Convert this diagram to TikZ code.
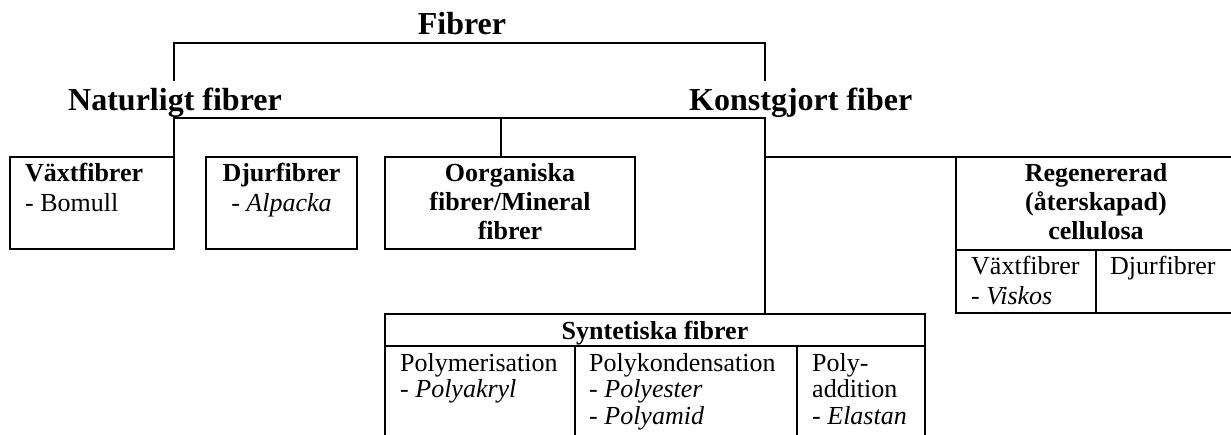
\documentclass[tikz,border=0pt]{standalone}
\usepackage{fontspec}
\setmainfont{Liberation Serif}
\usetikzlibrary{positioning}
\newcommand{\txtrows}[2]{\begin{tabular}[t]{@{}#1@{}}#2\end{tabular}}

\begin{document}
\begin{tikzpicture}[
      x=1pt, y=-1pt,
      title/.style={font=\fontsize{32}{36}\selectfont\bfseries, inner sep=0pt},
      txt/.style={font=\fontsize{26}{#1}\selectfont, inner sep=0pt},
      txt/.default=30,
      box/.style={draw, line width=1.8pt, inner sep=0pt, outer sep=0pt, anchor=north west},
      link/.style={line width=1.8pt}
    ]
      \useasboundingbox (0,0) rectangle (1231,435);
      \node[title, anchor=base] (fib) at (462,35) {Fibrer};
      \node[title, anchor=base west] (nat) at (68,111) {Naturligt fibrer};
      \node[title, anchor=base west] (kon) at (689,111) {Konstgjort fiber};
      \coordinate (fibj) at (469,43);
      \coordinate (natj) at (174,81);
      \coordinate (konj) at (765,81);
      \coordinate (hub) at (765,118);
      \coordinate (mid) at (501,118);

      \node[box, minimum width=164, minimum height=92] (vax) at (10,157) {};
      \node[box, minimum width=151, minimum height=92] (dju) at (206,157) {};
      \node[box, minimum width=250, minimum height=92] (oor) at (385,157) {};
      \node[box, minimum width=280, minimum height=93] (reg) at (956,157) {};
      \node[box, minimum width=140, minimum height=63] (regv) at (956,250) {};
      \node[box, minimum width=140, minimum height=63] (regd) at (1096,250) {};
      \node[box, minimum width=540, minimum height=32] (syn) at (385,314) {};
      \node[box, minimum width=190, minimum height=95] (polm) at (385,346) {};
      \node[box, minimum width=222, minimum height=95] (polk) at (575,346) {};
      \node[box, minimum width=128, minimum height=95] (pola) at (797,346) {};

      \node[txt, below right=25pt and 15pt of vax.north west, anchor=base west] (vaxt)
        {\txtrows{l}{\textbf{Växtfibrer}\\- Bomull}};
      \node[txt, below=25pt of dju.north, anchor=base] (djut)
        {\txtrows{c}{\textbf{Djurfibrer}\\- \textit{Alpacka}}};
      \node[txt=29, below=25pt of oor.north, anchor=base] (oort)
        {\bfseries\txtrows{c}{Oorganiska\\fibrer/Mineral\\fibrer}};
      \node[txt=29, below=25pt of reg.north -| regd.north west, anchor=base] (regt)
        {\bfseries\txtrows{c}{Regenererad\\(återskapad)\\cellulosa}};
      \node[txt, below right=25pt and 15pt of regv.north west, anchor=base west] (regvt)
        {\txtrows{l}{Växtfibrer\\- \textit{Viskos}}};
      \node[txt, below right=25pt and 14pt of regd.north west, anchor=base west] (regdt) {Djurfibrer};
      \node[txt, below=26pt of syn.north, anchor=base] (synt) {\textbf{Syntetiska fibrer}};
      \node[txt=26.5, below right=25pt and 15pt of polm.north west, anchor=base west] (polmt)
        {\txtrows{l}{Polymerisation\\- \textit{Polyakryl}}};
      \node[txt=26.5, below right=25pt and 14pt of polk.north west, anchor=base west] (polkt)
        {\txtrows{l}{Polykondensation\\- \textit{Polyester}\\- \textit{Polyamid}}};
      \node[txt=26.5, below right=25pt and 15pt of pola.north west, anchor=base west] (polat)
        {\txtrows{l}{Poly-\\addition\\- \textit{Elastan}}};

      \draw[link] (natj) |- (fibj) -| (konj);
      \draw[link] (vax.north east) |- (hub) -- (hub |- syn.north);
      \draw[link] (mid) -- (mid |- oor.north);
      \draw[link] (hub |- reg.north) -- (reg.north west);
    \end{tikzpicture}
\end{document}
